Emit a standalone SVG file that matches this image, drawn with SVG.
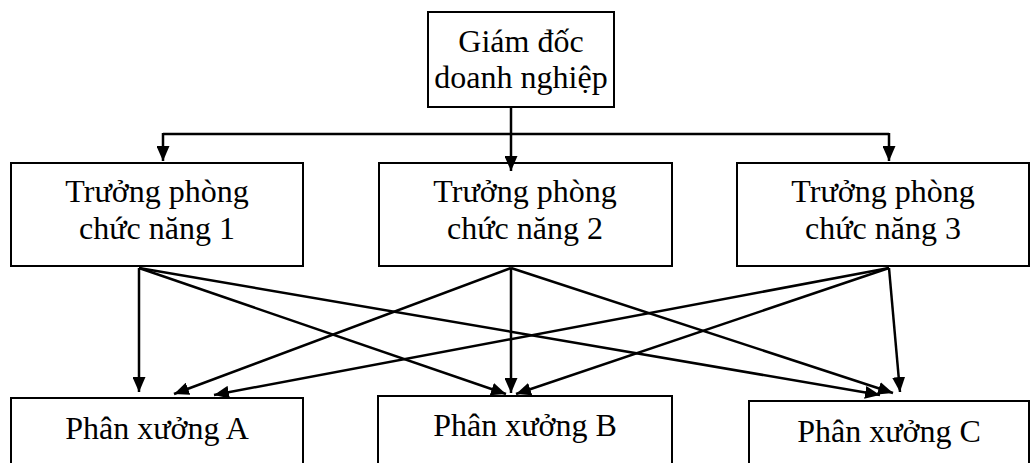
<svg xmlns="http://www.w3.org/2000/svg" width="1031" height="463" viewBox="0 0 1031 463">
  <style>
    .box { fill: #ffffff; stroke: #000000; stroke-width: 2; }
    .lbl { font-family: "Liberation Serif", "Times New Roman", serif; font-size: 32px; fill: #000000; text-anchor: middle; }
    .edge { fill: none; stroke: #000000; stroke-width: 2.5; }
  </style>
  <defs>
    <marker id="arrow" viewBox="0 0 15 13" refX="15" refY="6.5" markerWidth="15" markerHeight="13" markerUnits="userSpaceOnUse" orient="auto">
      <path d="M0,0 L15,6.5 L0,13 Z" fill="#000000"/>
    </marker>
  </defs>

  <rect width="1031" height="463" fill="#ffffff"/>

  <!-- top: director -->
  <g id="giam-doc">
    <rect class="box" x="428" y="12" width="186" height="95"/>
    <text class="lbl" x="521" y="52">Giám đốc</text>
    <text class="lbl" x="521" y="88">doanh nghiệp</text>
  </g>

  <!-- middle row: functional department heads -->
  <g id="truong-phong-1">
    <rect class="box" x="11" y="163" width="292" height="103"/>
    <text class="lbl" x="157" y="202">Trưởng phòng</text>
    <text class="lbl" x="157" y="239">chức năng 1</text>
  </g>
  <g id="truong-phong-2">
    <rect class="box" x="379" y="163" width="293" height="103"/>
    <text class="lbl" x="525" y="202">Trưởng phòng</text>
    <text class="lbl" x="525" y="239">chức năng 2</text>
  </g>
  <g id="truong-phong-3">
    <rect class="box" x="737" y="163" width="292" height="103"/>
    <text class="lbl" x="883" y="202">Trưởng phòng</text>
    <text class="lbl" x="883" y="239">chức năng 3</text>
  </g>

  <!-- bottom row: workshops -->
  <g id="phan-xuong-a">
    <rect class="box" x="11" y="398" width="292" height="80"/>
    <text class="lbl" x="157" y="439">Phân xưởng A</text>
  </g>
  <g id="phan-xuong-b">
    <rect class="box" x="378" y="396" width="294" height="80"/>
    <text class="lbl" x="525" y="436">Phân xưởng B</text>
  </g>
  <g id="phan-xuong-c">
    <rect class="box" x="749" y="401" width="280" height="80"/>
    <text class="lbl" x="889" y="442">Phân xưởng C</text>
  </g>

  <!-- connectors -->
  <g id="connectors">
    <!-- director to department heads -->
    <path class="edge" d="M511,107 L511,171" marker-end="url(#arrow)"/>
    <path class="edge" d="M163,134 L889,134"/>
    <path class="edge" d="M163,133 L163,161" marker-end="url(#arrow)"/>
    <path class="edge" d="M889,133 L889,161" marker-end="url(#arrow)"/>

    <!-- department head 1 -->
    <path class="edge" d="M139,268 L139,392" marker-end="url(#arrow)"/>
    <path class="edge" d="M139,268 L506,394" marker-end="url(#arrow)"/>
    <path class="edge" d="M139,268 L880,395" marker-end="url(#arrow)"/>

    <!-- department head 2 -->
    <path class="edge" d="M511,268 L174,394" marker-end="url(#arrow)"/>
    <path class="edge" d="M511,268 L511,393" marker-end="url(#arrow)"/>
    <path class="edge" d="M511,268 L893,393" marker-end="url(#arrow)"/>

    <!-- department head 3 -->
    <path class="edge" d="M889,268 L214,395" marker-end="url(#arrow)"/>
    <path class="edge" d="M889,268 L516,394" marker-end="url(#arrow)"/>
    <path class="edge" d="M889,268 L900,392" marker-end="url(#arrow)"/>
  </g>
</svg>
